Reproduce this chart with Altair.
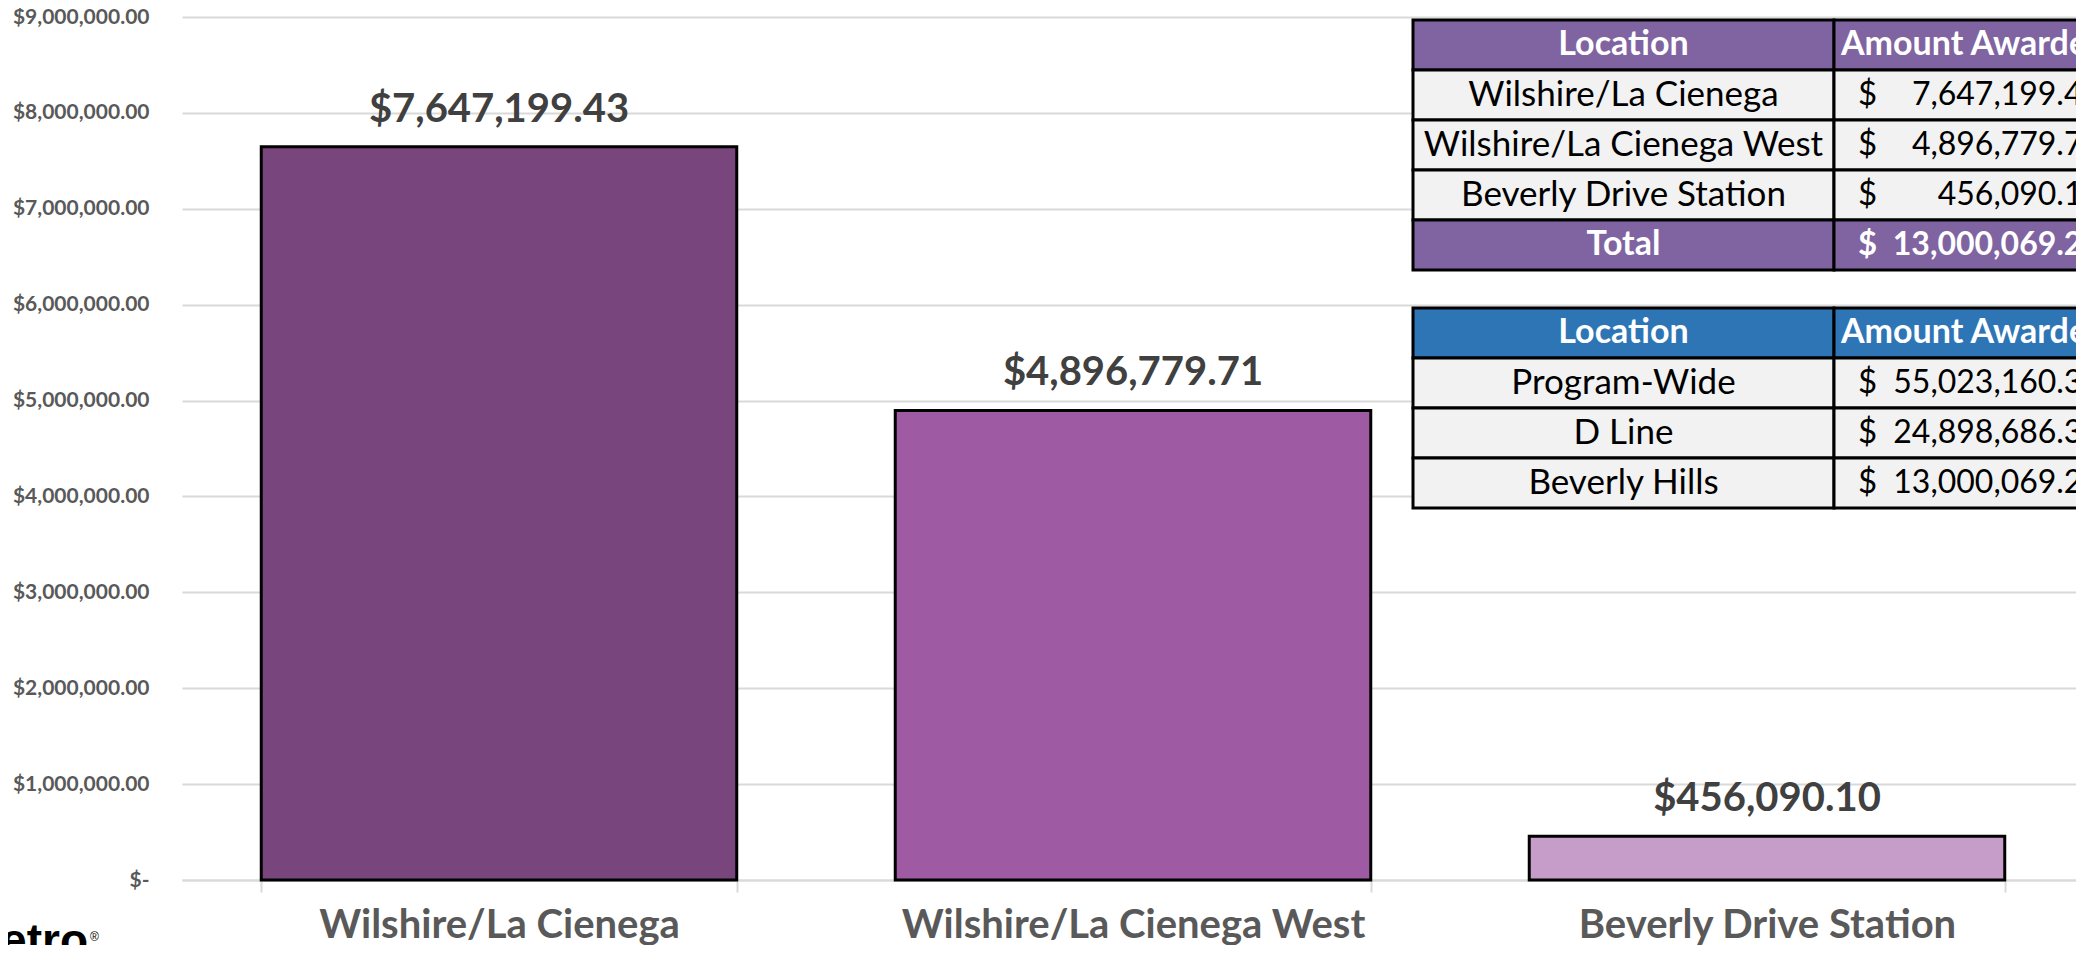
import altair as alt
import pandas as pd

# ---------------- data ----------------
categories = ["Wilshire/La Cienega", "Wilshire/La Cienega West", "Beverly Drive Station"]
amounts = [7647199.43, 4896779.71, 456090.10]
y_ticks = [0, 1e6, 2e6, 3e6, 4e6, 5e6, 6e6, 7e6, 8e6, 9e6]

table_header = ["Location", "Amount Awarded"]
t1_locations = ["Wilshire/La Cienega", "Wilshire/La Cienega West", "Beverly Drive Station"]
t1_amounts = [7647199.43, 4896779.71, 456090.10]
t1_total_label = "Total"
t1_total = 13000069.24
t2_locations = ["Program-Wide", "D Line", "Beverly Hills"]
t2_amounts = [55023160.30, 24898686.30, 13000069.24]
logo_text = "Metro"

# ---------------- styles / layout ----------------
bar_colors = ["#78467D", "#9E5BA3", "#C59DC8"]
T1_HEAD = "#8064A2"
T2_HEAD = "#2E75B6"
BODY = "#F2F2F2"
FONT = "Lato"
W, H = 1894, 863          # view size (svg = 2068 x 937)
X_RANGE = 1902            # the bands run to the right edge of the page
PAD = {"left": 174, "top": 9, "right": 0, "bottom": 65}

COL_L, COL_DIV, COL_R = 1231, 1652, 1926
T1_TOP, T2_TOP, ROW_H = 3, 291, 50
DOLLAR_X, NUM_R, AMT_HEAD_X = 1676, 1919, 1659

# ---------------- bar chart ----------------
bar_df = pd.DataFrame({"category": categories, "amount": amounts})
band = alt.Scale(paddingInner=0.25, paddingOuter=0.125, range=[0, X_RANGE])
lin = alt.Scale(domain=[0, 9e6], nice=False)

xenc = alt.X(
    "category:N", sort=categories, scale=band,
    axis=alt.Axis(title=None, labelAngle=0, tickBand="extent", ticks=True, tickSize=12,
                  tickColor="#D9D9D9", tickWidth=2, domainColor="#D9D9D9", domainWidth=2,
                  labelFont=FONT, labelFontSize=40, labelFontWeight="bold", labelColor="#595959",
                  labelPadding=45, labelBaseline="alphabetic", labelLimit=0, grid=False),
)
yenc = alt.Y(
    "amount:Q", scale=lin,
    axis=alt.Axis(values=y_ticks, title=None, grid=True, gridColor="#D9D9D9", gridWidth=2,
                  ticks=False, domain=False, labelPadding=33, labelFont=FONT, labelFontSize=21,
                  labelFontWeight="bold", labelColor="#595959",
                  labelExpr="datum.value == 0 ? '$-\u2002' : '$' + format(datum.value, ',.2f')"),
)

bars = alt.Chart(bar_df).mark_bar(stroke="black", strokeWidth=3).encode(
    x=xenc, y=yenc,
    color=alt.Color("category:N", scale=alt.Scale(domain=categories, range=bar_colors), legend=None),
)
bar_labels = alt.Chart(bar_df).transform_calculate(
    label="'$' + format(datum.amount, ',.2f')"
).mark_text(font=FONT, fontSize=40, fontWeight="bold", color="#404040",
            baseline="alphabetic", dy=-25).encode(
    x=alt.X("category:N", sort=categories, scale=band),
    y=alt.Y("amount:Q", scale=lin),
    text="label:N",
)
bar_layer = alt.layer(bars, bar_labels)

# ---------------- tables ----------------
def fmt(v):
    return f"{v:,.2f}"

cells, texts = [], []

def add_table(top, head_color, rows):
    y0 = top
    cells.append(dict(x=COL_L, x2=COL_DIV, y=y0, y2=y0 + ROW_H, fill=head_color))
    cells.append(dict(x=COL_DIV, x2=COL_R, y=y0, y2=y0 + ROW_H, fill=head_color))
    texts.append(dict(x=(COL_L + COL_DIV) / 2, y=y0 + ROW_H / 2, text=table_header[0],
                      align="center", weight="bold", color="white", size=34))
    texts.append(dict(x=AMT_HEAD_X, y=y0 + ROW_H / 2, text=table_header[1],
                      align="left", weight="bold", color="white", size=34))
    for i, (loc, amt, total) in enumerate(rows):
        y0 = top + (i + 1) * ROW_H
        fill = head_color if total else BODY
        col = "white" if total else "black"
        wt = "bold" if total else "normal"
        cells.append(dict(x=COL_L, x2=COL_DIV, y=y0, y2=y0 + ROW_H, fill=fill))
        cells.append(dict(x=COL_DIV, x2=COL_R, y=y0, y2=y0 + ROW_H, fill=fill))
        texts.append(dict(x=(COL_L + COL_DIV) / 2, y=y0 + ROW_H / 2, text=loc,
                          align="center", weight=wt, color=col, size=34 if total else 35))
        texts.append(dict(x=DOLLAR_X, y=y0 + ROW_H / 2, text="$", align="left",
                          weight=wt, color=col, size=33))
        texts.append(dict(x=NUM_R, y=y0 + ROW_H / 2, text=fmt(amt), align="right",
                          weight=wt, color=col, size=32))

add_table(T1_TOP, T1_HEAD,
          [(l, a, False) for l, a in zip(t1_locations, t1_amounts)] + [(t1_total_label, t1_total, True)])
add_table(T2_TOP, T2_HEAD, [(l, a, False) for l, a in zip(t2_locations, t2_amounts)])

cell_df = pd.DataFrame(cells)
text_df = pd.DataFrame(texts)

tx = alt.Scale(domain=[0, W], nice=False, zero=False)
ty = alt.Scale(domain=[0, H], reverse=True, nice=False, zero=False)

cell_layer = alt.Chart(cell_df).mark_rect(stroke="black", strokeWidth=3).encode(
    x=alt.X("x:Q", scale=tx, axis=None), x2="x2:Q",
    y=alt.Y("y:Q", scale=ty, axis=None), y2="y2:Q",
    fill=alt.Fill("fill:N", scale=None),
)

text_layers = []
for align in ["center", "left", "right"]:
    for wt in ["normal", "bold"]:
        text_layers.append(
            alt.Chart(text_df).transform_filter(
                f"datum.align == '{align}' && datum.weight == '{wt}'"
            ).mark_text(font=FONT, fontWeight=wt, align=align, baseline="middle").encode(
                x=alt.X("x:Q", scale=tx, axis=None),
                y=alt.Y("y:Q", scale=ty, axis=None),
                text="text:N",
                size=alt.Size("size:Q", scale=None),
                color=alt.Color("color:N", scale=None),
            )
        )

logo_df = pd.DataFrame({"x": [-94], "y": [939], "text": [logo_text]})
logo = alt.Chart(logo_df).mark_text(font="Liberation Sans", fontSize=46, fontWeight="bold",
                                    color="black", align="right", baseline="alphabetic").encode(
    x=alt.X("x:Q", scale=tx, axis=None), y=alt.Y("y:Q", scale=ty, axis=None), text="text:N")
reg_df = pd.DataFrame({"x": [-92], "y": [920], "text": ["®"]})
reg = alt.Chart(reg_df).mark_text(font="Liberation Sans", fontSize=12, color="black",
                                  align="left", baseline="middle").encode(
    x=alt.X("x:Q", scale=tx, axis=None), y=alt.Y("y:Q", scale=ty, axis=None), text="text:N")

table_layer = alt.layer(cell_layer, *text_layers, logo, reg)

chart = alt.layer(bar_layer, table_layer).resolve_scale(
    x="independent", y="independent", color="independent", fill="independent", size="independent"
).properties(
    width=W, height=H, padding=PAD, autosize=alt.AutoSizeParams(type="none"),
    background="white",
).configure_view(stroke=None)

chart.save("out.html", embed_options={"renderer": "svg", "actions": False})
